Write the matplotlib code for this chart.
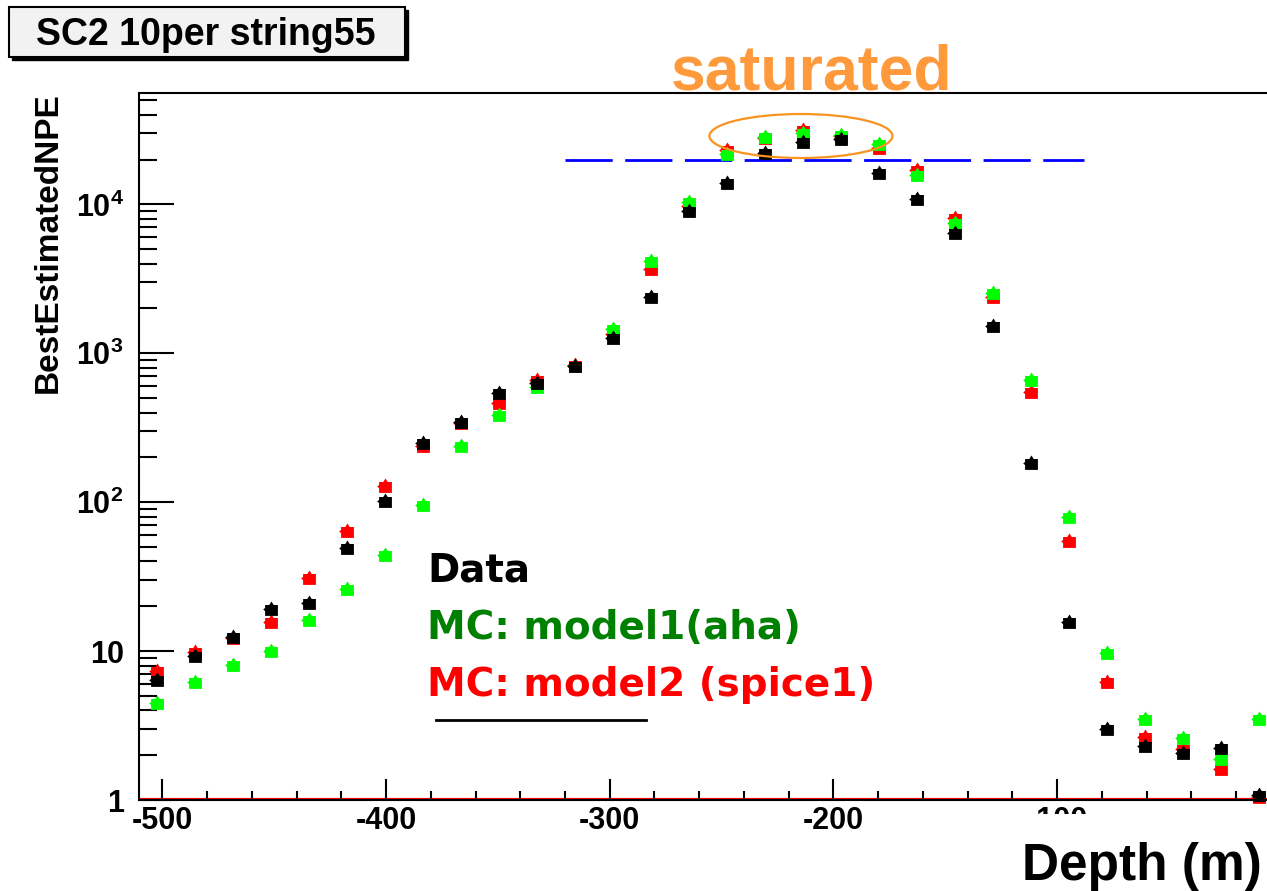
import matplotlib
matplotlib.use("Agg")
import matplotlib.pyplot as plt
from matplotlib.path import Path
from matplotlib.patches import Rectangle, Ellipse
from matplotlib.lines import Line2D
from matplotlib.transforms import ScaledTranslation
from matplotlib.ticker import FixedLocator, MultipleLocator, LogLocator, NullFormatter

# ------------------------------
# data: NPE per DOM along string 55
# ------------------------------
depth = [-502.5, -485.5, -468.5, -451.5, -434.5, -417.5, -400.5, -383.5,
         -366.5, -349.5, -332.5, -315.5, -298.5, -281.5, -264.5, -247.5,
         -230.5, -213.5, -196.5, -179.5, -162.5, -145.5, -128.5, -111.5,
         -94.5, -77.5, -60.5, -43.5, -26.5, -9.5]

npe_data = [6.4, 9.3, 12.5, 19.1, 20.9, 49.5, 102, 251,
            347, 539, 628, 822, 1260, 2400, 9070, 14000,
            22000, 26400, 27300, 16300, 10800, 6460, 1525, 184,
            15.6, 2.98, 2.31, 2.06, 2.24, 1.08]

npe_aha = [4.46, 6.2, 8.07, 10.0, 16.2, 26.1, 44, 95.8,
           238, 385, 597, 820, 1456, 4200, 10400, 21800,
           28500, 30300, 29300, 25500, 15700, 7540, 2550, 662,
           80, 9.76, 3.48, 2.6, 1.88, 3.48]

npe_spice = [7.4, 9.9, 12.2, 15.6, 30.8, 64, 128, 240,
             340, 461, 662, 830, 1350, 3700, 9800, 23200,
             28000, 31700, 29000, 23800, 17000, 8060, 2400, 552,
             55.2, 6.23, 2.66, 2.2, 1.62, 1.05]

sat_level = 2.0e4
sat_range = [-320, -88]
sat_center = (-214.5, 2.88e4)

x_major = [-500, -400, -300, -200, -100]
y_major = [1, 10, 100, 1000, 10000]
y_labels = ["1", "10", r"$10^{2}$", r"$10^{3}$", r"$10^{4}$"]

# ------------------------------
# style
# ------------------------------
plt.rcParams["font.family"] = "Liberation Sans"
plt.rcParams["font.weight"] = "bold"
plt.rcParams["axes.unicode_minus"] = False
plt.rcParams["mathtext.fontset"] = "custom"
plt.rcParams["mathtext.rm"] = "Liberation Sans:bold"
plt.rcParams["mathtext.default"] = "regular"

W, H = 1267, 891


def px(x, y):
    return x / W, 1 - y / H


# small blocky star like the ROOT marker
verts = [(-1, -1), (1, -1), (1, 0.7), (0.35, 0.7), (0, 1.25), (-0.35, 0.7),
         (-1, 0.7), (-1, 0.25), (-1.3, 0.0), (-1, -0.25), (-1, -1)]
star = Path(verts, closed=True)
MS = 12

fig = plt.figure(figsize=(W / 100, H / 100), dpi=100)
ax = fig.add_axes([139 / W, 1 - 800 / H, (1280.7 - 139) / W, (800 - 92.7) / H])

ax.set_yscale("log")
ax.set_xlim(-510.5, 0)
ax.set_ylim(1, 5.626e4)

ax.axhline(1.0, color="#ff0000", lw=3, zorder=1)

ax.plot(depth, npe_spice, ls="none", marker=star, ms=MS, mew=0,
        color="#ff0000", zorder=3, clip_on=False)
ax.plot(depth, npe_aha, ls="none", marker=star, ms=MS, mew=0,
        color="#00ff00", zorder=4, clip_on=False)
ax.plot(depth, npe_data, ls="none", marker=star, ms=MS, mew=0,
        color="black", zorder=5, clip_on=False)

# saturation level
ax.plot(sat_range, [sat_level, sat_level], color="#0000ff", lw=2,
        dashes=(17, 4.5), zorder=2)

ell = Ellipse((0, 0), 1.83, 0.44, fill=False, edgecolor="#f7931e", lw=1.6,
              transform=fig.dpi_scale_trans + ScaledTranslation(*sat_center, ax.transData),
              zorder=6)
ax.add_artist(ell)

# axes
for s in ["left", "bottom", "top"]:
    ax.spines[s].set_linewidth(1.5)
ax.spines["right"].set_visible(False)

ax.xaxis.set_major_locator(FixedLocator(x_major))
ax.xaxis.set_minor_locator(MultipleLocator(20))
ax.yaxis.set_major_locator(FixedLocator(y_major))
ax.set_yticklabels(y_labels)
ax.yaxis.set_minor_locator(LogLocator(base=10, subs=range(2, 10), numticks=20))
ax.yaxis.set_minor_formatter(NullFormatter())

ax.tick_params(axis="x", which="major", direction="in", length=15, width=1.5,
               pad=4, labelsize=22, top=False)
ax.tick_params(axis="x", which="minor", direction="in", length=6.7, width=1.5, top=False)
ax.tick_params(axis="y", which="major", direction="in", length=25, width=1.5,
               pad=11, labelsize=22, right=False)
ax.tick_params(axis="y", which="minor", direction="in", length=13, width=1.5, right=False)

# title box with shadow
fig.patches.append(Rectangle(px(12, 60), 396 / W, 50 / H, transform=fig.transFigure,
                             facecolor="black", edgecolor="black", zorder=2))
fig.patches.append(Rectangle(px(9, 57), 396 / W, 50 / H, transform=fig.transFigure,
                             facecolor="#f2f2f2", edgecolor="black", lw=1.5, zorder=3))
fig.text(*px(205.5, 45), "SC2 10per string55", fontsize=27, ha="center",
         va="baseline", zorder=4)

fig.text(*px(48, 92), "BestEstimatedNPE", fontsize=24, rotation=90,
         ha="center", va="top")

# x title over a white patch
fig.patches.append(Rectangle(px(1005, 891), 262 / W, 77 / H, transform=fig.transFigure,
                             facecolor="white", edgecolor="none", zorder=5))
fig.text(*px(1262, 880), "Depth (m)", fontsize=37, ha="right", va="baseline", zorder=6)

fig.text(*px(671, 90), "saturated", fontsize=45, color="#ff9a3c",
         va="baseline", zorder=6)

# legend text
leg_font = ["DejaVu Sans"]
fig.text(*px(427, 581), "Data", fontsize=28, family=leg_font, color="black", va="baseline")
fig.text(*px(427, 639), "MC: model1(aha)", fontsize=28, family=leg_font,
         color="#008000", va="baseline")
fig.text(*px(427, 696), "MC: model2 (spice1)", fontsize=28, family=leg_font,
         color="#ff0000", va="baseline")
fig.lines.append(Line2D([436 / W, 646 / W], [1 - 720 / H, 1 - 720 / H],
                        transform=fig.transFigure, color="black", lw=2))

fig.savefig("out.png", dpi=100)
